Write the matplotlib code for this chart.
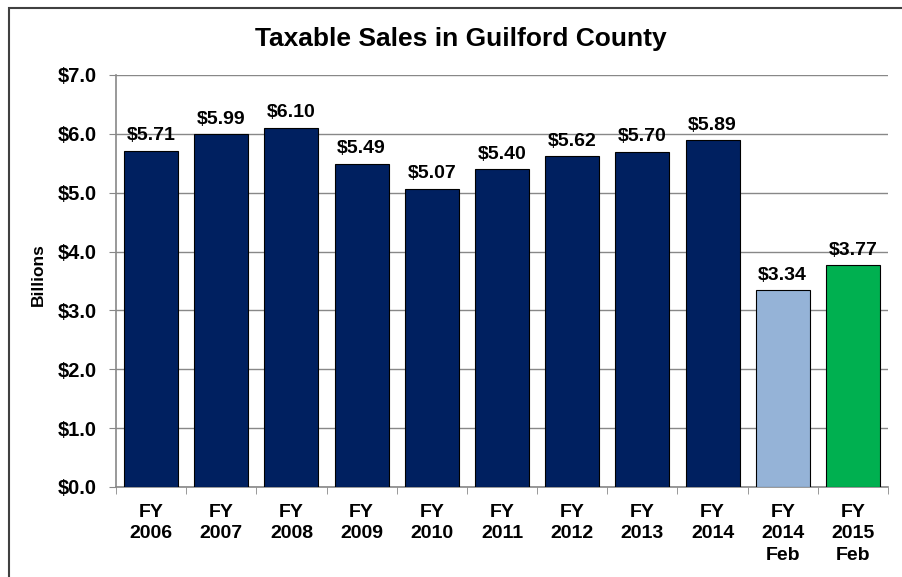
import matplotlib
matplotlib.use('Agg')
import matplotlib.pyplot as plt
from matplotlib.patches import Rectangle

plt.rcParams['font.family'] = ['Liberation Sans', 'DejaVu Sans']

# 数据
categories = ['FY\n2006', 'FY\n2007', 'FY\n2008', 'FY\n2009', 'FY\n2010', 'FY\n2011',
              'FY\n2012', 'FY\n2013', 'FY\n2014', 'FY\n2014\nFeb', 'FY\n2015\nFeb']
values = [5.71, 5.99, 6.10, 5.49, 5.07, 5.40, 5.62, 5.70, 5.89, 3.34, 3.77]
bar_colors = ['#002060'] * 9 + ['#95B3D7', '#00B050']
y_ticks = [0, 1, 2, 3, 4, 5, 6, 7]

fig = plt.figure(figsize=(9.02, 5.77), dpi=100)
ax = fig.add_axes([116 / 902, 1 - 487 / 577, (888 - 116) / 902, (487 - 75) / 577])

# 外框（右侧和底部被裁掉）
fig.patches.append(Rectangle((9 / 902, -0.1), 1.2, 1.1 - 8 / 577, transform=fig.transFigure,
                             fill=False, edgecolor='#404040', linewidth=1.5))

x = list(range(len(values)))
ax.bar(x, values, width=0.77, color=bar_colors, edgecolor='black', linewidth=0.8, zorder=3)

for xi, v in zip(x, values):
    ax.text(xi, v + 0.11, f'${v:.2f}', ha='center', va='bottom', fontsize=14, fontweight='bold')

ax.set_xlim(-0.5, len(values) - 0.5)
ax.set_ylim(0, 7)
ax.set_yticks(y_ticks)
ax.set_yticklabels([f'${t:.1f}' for t in y_ticks], fontsize=14.5, fontweight='bold')
ax.yaxis.grid(True, color='#888888', linewidth=1, zorder=0)

ax.set_xticks(x)
ax.set_xticklabels(categories, fontsize=14, fontweight='bold', va='top', linespacing=1.35)
ax.tick_params(axis='x', length=0, pad=12)
ax.set_xticks([i - 0.5 for i in range(len(values) + 1)], minor=True)
ax.tick_params(axis='x', which='minor', length=5, color='#888888', direction='out')
ax.tick_params(axis='y', length=5, color='#888888', pad=9)

for s in ['top', 'right']:
    ax.spines[s].set_visible(False)
for s in ['left', 'bottom']:
    ax.spines[s].set_color('#888888')
    ax.spines[s].set_linewidth(1.2)

fig.text(38 / 902, 1 - 275 / 577, 'Billions', rotation=90, ha='center', va='center',
         fontsize=12.5, fontweight='bold')
fig.text(461 / 902, 1 - 39 / 577, 'Taxable Sales in Guilford County', ha='center', va='center',
         fontsize=19, fontweight='bold')

fig.savefig('out.png', dpi=100)
